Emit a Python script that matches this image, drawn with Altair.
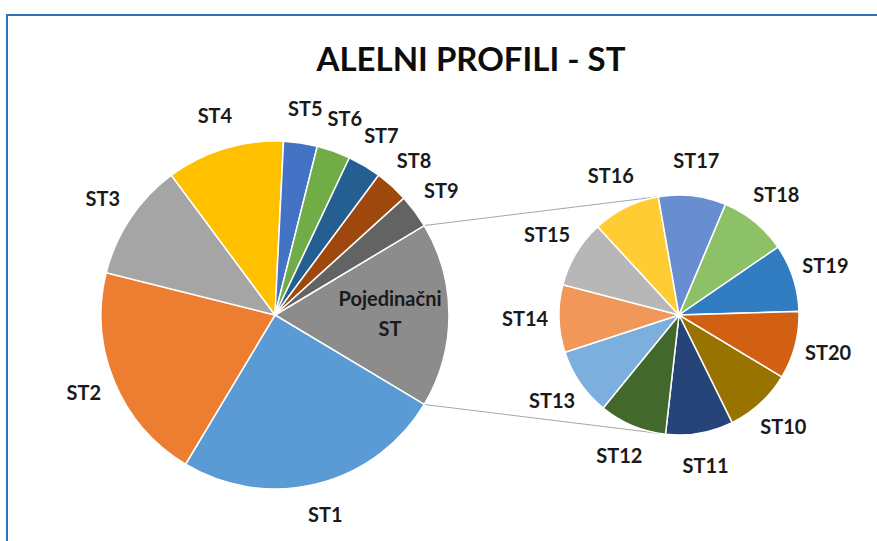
import math
import altair as alt
import pandas as pd

# ---------------- data ----------------
title_text = "ALELNI PROFILI - ST"

# main pie (individual profiles)
st_labels = ["ST1", "ST2", "ST3", "ST4", "ST5", "ST6", "ST7", "ST8", "ST9"]
st_values = [16, 13, 7, 7, 2, 2, 2, 2, 2]
st_colors = ["#5B9BD5", "#ED7D31", "#A5A5A5", "#FFC000", "#4472C4",
             "#70AD47", "#255E91", "#9E480E", "#636363"]

# secondary pie (single profiles, grouped as "Pojedinačni ST")
other_label = "Pojedinačni ST"
other_color = "#8C8C8C"
sec_labels = ["ST10", "ST11", "ST12", "ST13", "ST14", "ST15",
              "ST16", "ST17", "ST18", "ST19", "ST20"]
sec_values = [1, 1, 1, 1, 1, 1, 1, 1, 1, 1, 1]
sec_colors = ["#997300", "#264478", "#43682B", "#7CAFDD", "#F1975A", "#B7B7B7",
              "#FFCD33", "#698ED0", "#8CC168", "#327DC2", "#D26012"]

# ---------------- layout ----------------
W, H = 877, 541
CX1, CY1, R1 = 275, 315, 174      # main pie
CX2, CY2, R2 = 679, 315, 120      # secondary pie
LBL_R1, LBL_R2, INNER_R = 207, 154, 115
FONT = "Lato"
TXT = "#1a1a1a"

main_labels = [other_label] + st_labels
main_values = [sum(sec_values)] + st_values
main_colors = [other_color] + st_colors
total = sum(main_values)
other_angle = 2 * math.pi * main_values[0] / total
main_start = math.pi / 2 - other_angle / 2           # "other" slice centred at 3 o'clock
sec_start = math.radians(121)

main_df = pd.DataFrame({"label": main_labels, "value": main_values,
                        "order": list(range(len(main_labels)))})
sec_df = pd.DataFrame({"label": sec_labels, "value": sec_values,
                       "order": list(range(len(sec_labels)))})

# connector lines from the "other" slice edges to the secondary pie
a_top, a_bot = main_start, main_start + other_angle
tilt = math.radians(9)
conn_df = pd.DataFrame({
    "x": [CX1 + R1 * math.sin(a_top), CX1 + R1 * math.sin(a_bot)],
    "y": [CY1 - R1 * math.cos(a_top), CY1 - R1 * math.cos(a_bot)],
    "x2": [CX2 - R2 * math.sin(tilt), CX2 - R2 * math.sin(tilt)],
    "y2": [CY2 - R2 * math.cos(tilt), CY2 + R2 * math.cos(tilt)],
})


def theta_enc(start):
    return alt.Theta("value:Q", stack=True,
                     scale=alt.Scale(range=[start, start + 2 * math.pi]))


main_color = alt.Color("label:N", scale=alt.Scale(domain=main_labels, range=main_colors),
                       legend=None)
sec_color = alt.Color("label:N", scale=alt.Scale(domain=sec_labels, range=sec_colors),
                      legend=None)

main_arcs = alt.Chart(main_df).mark_arc(outerRadius=R1, stroke="white", strokeWidth=1.5).encode(
    theta=theta_enc(main_start), color=main_color, order=alt.Order("order:Q"),
    x=alt.value(CX1), y=alt.value(CY1))

text_style = dict(font=FONT, fontWeight="bold", fontSize=20, color=TXT)

# outer labels (every slice except the grouped one)
main_text_out = alt.Chart(main_df).transform_calculate(
    t=f"datum.label == '{other_label}' ? '' : datum.label"
).mark_text(radius=LBL_R1, **text_style).encode(
    theta=theta_enc(main_start), order=alt.Order("order:Q"), text="t:N",
    x=alt.value(CX1), y=alt.value(CY1))

# inner label of the grouped slice (two lines)
main_text_in = alt.Chart(main_df).transform_calculate(
    t=f"datum.label == '{other_label}' ? datum.label : ''"
).mark_text(radius=INNER_R, lineBreak=" ", lineHeight=30, dy=-15, **text_style).encode(
    theta=theta_enc(main_start), order=alt.Order("order:Q"), text="t:N",
    x=alt.value(CX1), y=alt.value(CY1))

sec_arcs = alt.Chart(sec_df).mark_arc(outerRadius=R2, stroke="white", strokeWidth=1.5).encode(
    theta=theta_enc(sec_start), color=sec_color, order=alt.Order("order:Q"),
    x=alt.value(CX2), y=alt.value(CY2))

sec_text = alt.Chart(sec_df).mark_text(radius=LBL_R2, **text_style).encode(
    theta=theta_enc(sec_start), order=alt.Order("order:Q"), text="label:N",
    x=alt.value(CX2), y=alt.value(CY2))

connectors = alt.Chart(conn_df).mark_rule(color="#A6A6A6", strokeWidth=1).encode(
    x=alt.X("x:Q", scale=None), y=alt.Y("y:Q", scale=None),
    x2="x2:Q", y2="y2:Q")

dummy = alt.Data(values=[{"t": title_text}])
title = alt.Chart(dummy).mark_text(
    font=FONT, fontWeight="bold", fontSize=33, color="#0d0d0d",
    align="center", baseline="alphabetic").encode(
    text="t:N", x=alt.value(471), y=alt.value(71))

border = alt.Chart(alt.Data(values=[{}])).mark_rect(
    fillOpacity=0, stroke="#2E75B6", strokeWidth=2).encode(
    x=alt.value(7), y=alt.value(15), x2=alt.value(W + 20), y2=alt.value(H + 20))

main_layer = alt.layer(main_arcs, main_text_out, main_text_in)
sec_layer = alt.layer(sec_arcs, sec_text)

chart = alt.layer(border, connectors, title, main_layer, sec_layer).resolve_scale(
    theta="independent", color="independent"
).properties(
    width=W, height=H, autosize="none", padding=0, background="white"
).configure_view(strokeWidth=0)

chart.save("out.html", embed_options={"renderer": "svg", "actions": False})
